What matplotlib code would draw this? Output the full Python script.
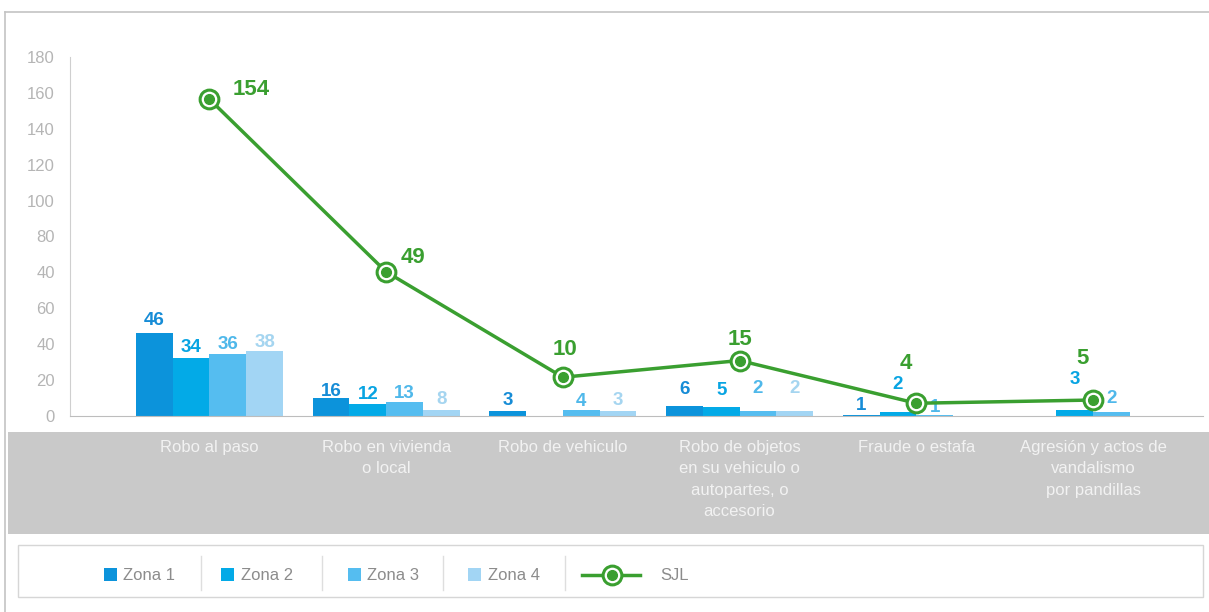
import matplotlib
matplotlib.use("Agg")
import matplotlib.pyplot as plt
from matplotlib.patches import Rectangle
from matplotlib.lines import Line2D
import numpy as np

plt.rcParams['font.family'] = ['Liberation Sans', 'DejaVu Sans']

# data (heights as drawn, labels as printed)
categories = [
    "Robo al paso",
    "Robo en vivienda\no local",
    "Robo de vehiculo",
    "Robo de objetos\nen su vehiculo o\nautopartes, o\naccesorio",
    "Fraude o estafa",
    "Agresión y actos de\nvandalismo\npor pandillas",
]
zona1 = [46.2, 10.2, 2.6, 5.6, 0.8, 0.0]
zona2 = [32.2, 6.5, 0.0, 5.2, 2.4, 3.4]
zona3 = [34.5, 7.8, 3.2, 2.8, 0.8, 2.2]
zona4 = [36.3, 3.5, 2.6, 2.8, 0.0, 0.0]
zona1_lbl = ["46", "16", "3", "6", "1", ""]
zona2_lbl = ["34", "12", "", "5", "2", "3"]
zona3_lbl = ["36", "13", "4", "2", "1", "2"]
zona4_lbl = ["38", "8", "3", "2", "", ""]
sjl = [176.5, 80.3, 21.6, 30.9, 7.1, 8.9]
sjl_lbl = ["154", "49", "10", "15", "4", "5"]
ytick_labels = ["0", "20", "40", "60", "40", "80", "100", "120", "140", "160", "180"]
series_names = ["Zona 1", "Zona 2", "Zona 3", "Zona 4"]

# styling
bar_colors = ['#0c93db', '#03aae7', '#55bdf0', '#a2d5f4']
lbl_colors = ['#168cd6', '#08a4e2', '#4fb8ea', '#a5d5f0']
green = '#3a9f30'
# label lift above bar top (pixels), per series / category
bar_lift = [
    [8, 2, 6, 12, 5, 0],
    [6, 5, 0, 12, 23, 26],
    [5, 4, 4, 18, 3, 9],
    [4, 6, 6, 18, 0, 0],
]
# SJL label offsets (dx, dy) in pixels
sjl_off = [(42, 4), (27, 9), (2, 22), (0, 16), (-11, 34), (-11, 36)]

W, H = 1209, 612
fig = plt.figure(figsize=(W / 100, H / 100), dpi=100)

# background decorations in pixel coordinates
deco = fig.add_axes([0, 0, 1, 1], zorder=-1)
deco.set_xlim(0, W)
deco.set_ylim(H, 0)
deco.axis('off')
deco.add_line(Line2D([5, W], [12, 12], color='#c4c4c4', lw=1.2))
deco.add_line(Line2D([5, 5], [12, H], color='#c4c4c4', lw=1.2))
deco.add_patch(Rectangle((8, 432), W - 8, 102, facecolor='#c9c9c9', edgecolor='none'))

# legend box
deco.add_patch(Rectangle((18, 545), 1185, 52, facecolor='white', edgecolor='#d6d6d6', lw=1))
for sx in [201, 322, 443, 565]:
    deco.add_line(Line2D([sx, sx], [556, 590], color='#dedede', lw=1))
for name, col, sqx, tx in zip(series_names, bar_colors, [104, 221, 348, 468], [123, 241, 367, 488]):
    deco.add_patch(Rectangle((sqx, 568), 13, 13, facecolor=col, edgecolor='none'))
    deco.text(tx, 575, name, ha='left', va='center', fontsize=12, color='#8c8c8c')
deco.add_line(Line2D([582, 640], [575, 575], color=green, lw=2.5))
deco.plot([612], [575], marker='o', ms=13.5, mfc='white', mec=green, mew=2.2)
deco.plot([612], [575], marker='o', ms=7, color=green)
deco.text(660, 575, "SJL", ha='left', va='center', fontsize=12, color='#8c8c8c')

# main chart
ax = fig.add_axes([70 / W, 1 - 416 / H, (1203 - 70) / W, (416 - 57) / H])
x = np.arange(len(categories))
w = 0.208
all_vals = [zona1, zona2, zona3, zona4]
all_lbls = [zona1_lbl, zona2_lbl, zona3_lbl, zona4_lbl]
for k, (vals, lbls) in enumerate(zip(all_vals, all_lbls)):
    xs = x + (k - 1.5) * w
    ax.bar(xs, vals, w, color=bar_colors[k], label=series_names[k], zorder=2)
    for i, (xx, v, t) in enumerate(zip(xs, vals, lbls)):
        if t:
            ax.annotate(t, (xx, v), xytext=(0, bar_lift[k][i]), textcoords='offset pixels',
                        ha='center', va='baseline', fontsize=13.5, fontweight='bold',
                        color=lbl_colors[k], zorder=3)

ax.plot(x, sjl, color=green, lw=2.5, marker='o', ms=13.5, mfc='white', mec=green,
        mew=2.2, zorder=4, label='SJL')
ax.plot(x, sjl, 'o', color=green, ms=7, zorder=5)
for xx, v, t, (dx, dy) in zip(x, sjl, sjl_lbl, sjl_off):
    ax.annotate(t, (xx, v), xytext=(dx, dy), textcoords='offset pixels',
                ha='center', va='baseline', fontsize=16, fontweight='bold',
                color=green, zorder=6)

ax.set_xlim(-0.789, 5.622)
ax.set_ylim(0, 200)
ax.set_yticks(range(0, 201, 20))
ax.set_yticklabels(ytick_labels)
ax.set_xticks(x)
ax.set_xticklabels(categories)
for lbl in ax.get_xticklabels():
    lbl.set_linespacing(1.55)
ax.tick_params(axis='y', length=0, pad=11, labelcolor='#b5b5b5', labelsize=12)
ax.tick_params(axis='x', length=0, pad=17, labelcolor='#f2f2f2', labelsize=12)
for s in ['top', 'right']:
    ax.spines[s].set_visible(False)
ax.spines['left'].set_color('#cfcfcf')
ax.spines['bottom'].set_color('#bdbdbd')
ax.patch.set_alpha(0)

fig.savefig('out.png', dpi=100)
